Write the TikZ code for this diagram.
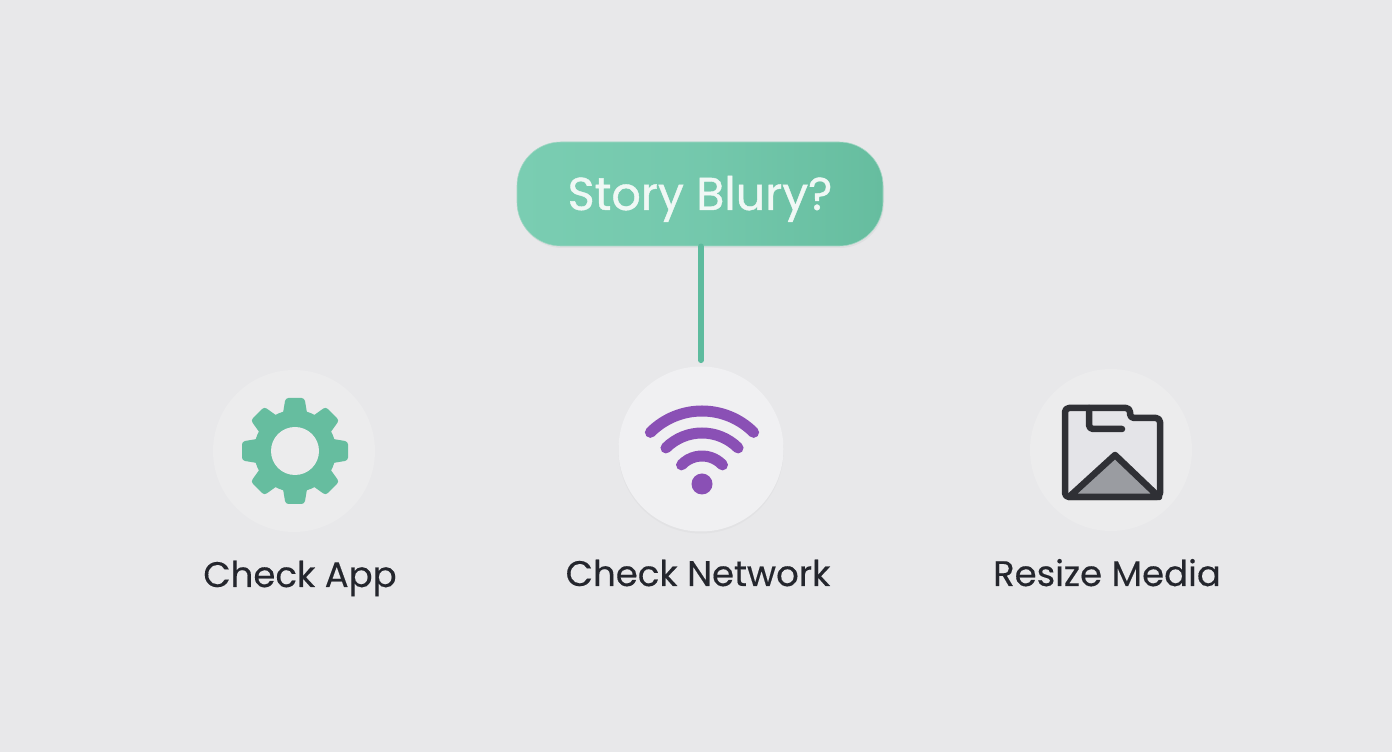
\documentclass[tikz,border=0pt]{standalone}
\usepackage{fontspec}
\setmainfont[FakeBold=0.35]{Poppins}
\newfontfamily\pillfont[FakeBold=0.9]{Poppins}
\usetikzlibrary{shadows}
\definecolor{paper}{HTML}{E8E8EA}
\definecolor{disc}{HTML}{ECECED}
\definecolor{discup}{HTML}{F0F0F2}
\definecolor{mint}{HTML}{66BD9F}
\definecolor{mintlight}{HTML}{7ACDB2}
\definecolor{wire}{HTML}{5DBB9E}
\definecolor{violet}{HTML}{8A50B5}
\definecolor{ink}{HTML}{24262D}
\definecolor{frame}{HTML}{2F3035}
\definecolor{sheet}{HTML}{E4E4E8}
\definecolor{peak}{HTML}{9A9CA1}
\tikzset{
  iconbase/.style={circle, minimum size=162pt, inner sep=0pt, fill=disc},
  caption/.style={anchor=base, text=ink, font=\fontsize{35.5}{44}\selectfont},
  wifiarc/.style={draw=violet, line width=11pt, line cap=round},
  frameline/.style={frame, line width=6.5pt, line join=round},
}
\begin{document}
\begin{tikzpicture}[x=1pt,y=1pt]
\fill [paper] (0,0) rectangle (1392,752);
\useasboundingbox (0,0) rectangle (1392,752);

\node (question) at (700,558) [rounded corners=44pt, minimum width=366pt, minimum height=104pt,
  text height=40pt, text depth=8pt,
  left color=mintlight, right color=mint, middle color=mintlight!70!mint, draw=white!40!mint, line width=.6pt,
  drop shadow={opacity=.08, shadow xshift=1pt, shadow yshift=-2pt},
  text=white!90!mint, font=\pillfont\fontsize{46}{54}\selectfont] {Story Blury?};

\node (app) at (294,301) [iconbase] {};
\node (network) at (701,303) [iconbase, minimum size=165pt, fill=discup,
  drop shadow={opacity=.05, shadow xshift=0pt, shadow yshift=-2pt}] {};
\node (media) at (1111,302) [iconbase] {};

\draw [wire, line width=5.5pt, line cap=round, shorten >=6pt] (question.south -| network) -- (network.north);

% gear
\fill [mint] (295,301) circle[radius=41];
\foreach \a in {0,45,...,315}
  \fill [mint, rounded corners=3pt, rotate around={\a:(295,301)}] (282,333) -- (285.5,354) -- (304.5,354) -- (308,333) -- cycle;
\fill [disc] (295,301) circle[radius=24];

% wifi
\draw [wifiarc] (702,268) ++(45:73) arc (45:135:73);
\draw [wifiarc] (702,268) ++(45:51) arc (45:135:51);
\draw [wifiarc] (702,268) ++(43:28) arc (43:137:28);
\fill [violet] (702,268) circle[radius=10.5];

% folder with mountain
\draw [frameline, fill=sheet, rounded corners=4pt]
  (1065,344) -- (1130,344) -- (1130,334) -- (1160,334) -- (1160,255) -- (1065,255) -- cycle;
\draw [frameline, line cap=round, rounded corners=4pt] (1089,344) -- (1089,323) -- (1122,323);
\draw [frameline, fill=peak] (1069,255) -- (1115,297) -- (1159,255) -- cycle;

\node (lblapp) at (300,165) [caption] {Check App};
\node (lblnetwork) at (698,166) [caption] {Check Network};
\node (lblmedia) at (1107,166) [caption] {Resize Media};
\end{tikzpicture}
\end{document}
